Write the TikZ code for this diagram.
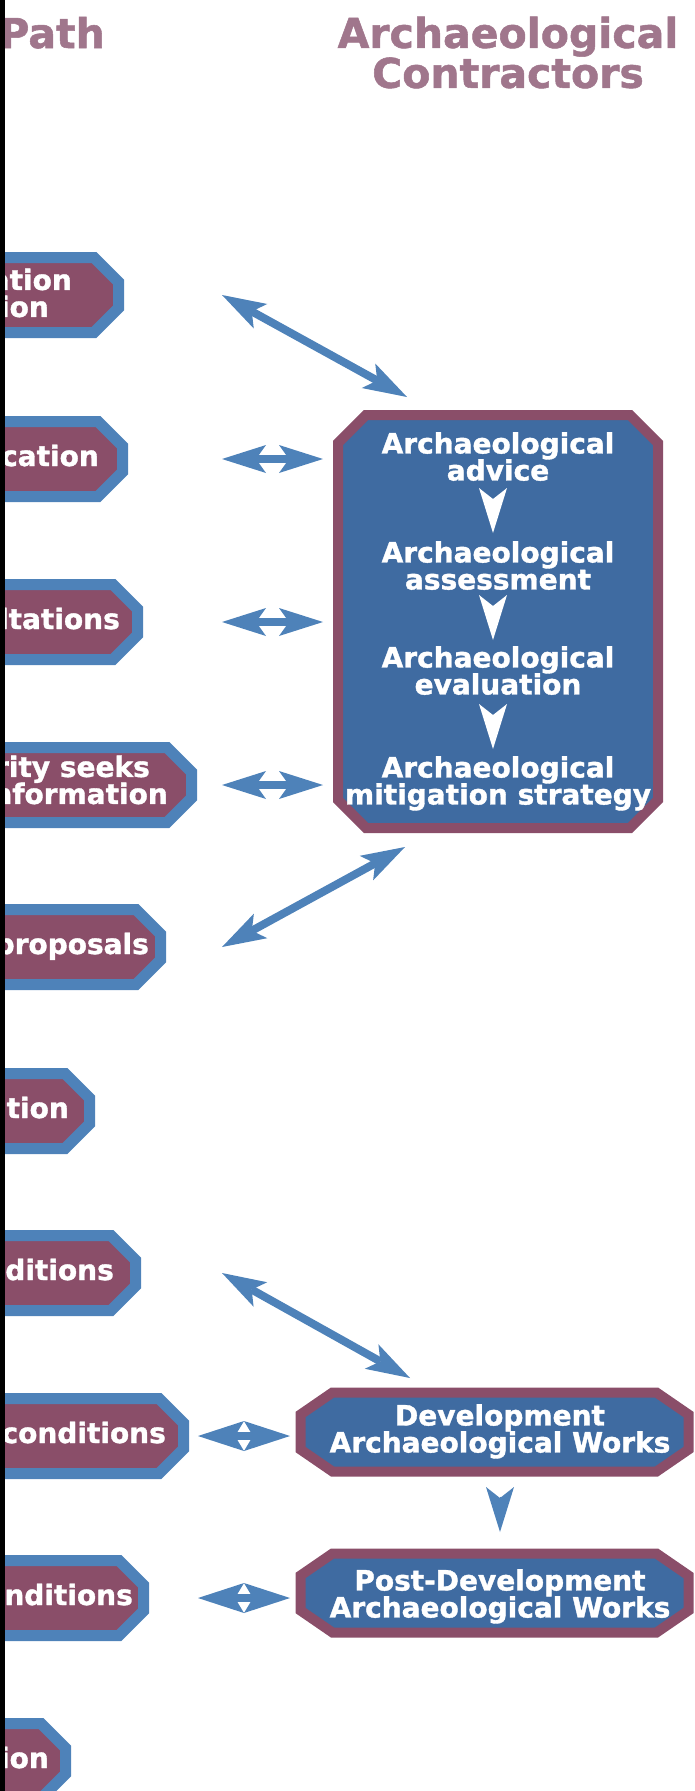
\documentclass[tikz,border=0pt]{standalone}
\usepackage{fontspec}
\setmainfont{DejaVu Sans}[BoldFeatures={FakeBold=1.3}]
\usetikzlibrary{arrows.meta}
\definecolor{TitleMauve}{HTML}{A0768C}
\definecolor{PathBlue}{HTML}{4E82B9}
\definecolor{BoxBlue}{HTML}{3F6BA1}
\definecolor{BoxRed}{HTML}{8A4E69}

\tikzset{
  titletext/.style={font={\bfseries\fontsize{41}{40}\selectfont\lineskiplimit=-20pt}, text=TitleMauve, inner sep=0pt, align=center},
  boxtext/.style={font={\bfseries\fontsize{28}{27}\selectfont\lineskiplimit=-20pt}, text=white, inner sep=0pt},
  pathbox/.style={draw=PathBlue, fill=BoxRed, line width=11pt, line join=miter},
  workbox/.style={draw=BoxRed, fill=BoxBlue, line width=10pt, line join=miter},
  twoway/.style={PathBlue, line width=8pt,
    {Stealth[length=44pt,width=28pt,inset=10pt,line width=0pt]}-{Stealth[length=44pt,width=28pt,inset=10pt,line width=0pt]}},
  shortway/.style={PathBlue, line width=8pt,
    {Stealth[length=46pt,width=30pt,inset=9pt,line width=0pt]}-{Stealth[length=46pt,width=30pt,inset=9pt,line width=0pt]}},
  downtip/.style={line width=0.5pt, -{Stealth[length=45pt,width=28pt,inset=11pt,line width=0pt]}}
}

\begin{document}
\begin{tikzpicture}[x=1pt,y=-1pt]
  \useasboundingbox (0,0) rectangle (695,1791);
  \clip (0,0) rectangle (695,1791);

  % column titles
  \node[titletext, anchor=base east] (pathtitle) at (105,48) {Path};
  \node[titletext, anchor=north] (contrtitle) at (508,16.5) {Archaeological\\Contractors};

  % planning path boxes, cut off by the left edge
  \foreach \i/\yc/\xr in {1/295/124,2/459/128,3/622/143,4/785/197,5/947/166,6/1111/95,7/1273/141,8/1436/189,9/1598/149,10/1761/71}{
    \filldraw[pathbox] (-20,\yc-37.5) -- (\xr-30,\yc-37.5) -- (\xr-5.5,\yc-13) -- (\xr-5.5,\yc+13) -- (\xr-30,\yc+37.5) -- (-20,\yc+37.5) -- cycle;
    \coordinate (row\i) at (0,\yc);
  }
  \node[boxtext, anchor=east, align=right] (prelim) at (72,293) {ation\\ion\hspace*{23pt}};
  \node[boxtext, anchor=base east] (appl) at (99,466) {cation};
  \node[boxtext, anchor=base east] (consult) at (120,629) {ltations};
  \node[boxtext, anchor=east, align=right] (seeks) at (168,780) {rity seeks\hspace*{18pt}\\nformation};
  \node[boxtext, anchor=base east] (amend) at (149,954) {proposals};
  \node[boxtext, anchor=base east] (determ) at (69,1118) {ation};
  \node[boxtext, anchor=base east] (cond) at (114,1280) {nditions};
  \node[boxtext, anchor=base east] (comply) at (166,1443) {conditions};
  \node[boxtext, anchor=base east] (discharge) at (133,1605) {onditions};
  \node[boxtext, anchor=base east] (complete) at (49,1768) {ion};

  % contractor boxes
  \filldraw[workbox] (366,415) -- (630,415) -- (658,443) -- (658,800) -- (630,828) -- (366,828) -- (338,800) -- (338,443) -- cycle;
  \foreach \yt in {1392.5,1553.5}{
    \filldraw[workbox] (332.5,\yt) -- (656.5,\yt) -- (688.5,\yt+22) -- (688.5,\yt+57) -- (656.5,\yt+79) -- (332.5,\yt+79) -- (300.5,\yt+57) -- (300.5,\yt+22) -- cycle;
  }
  \node[boxtext, align=center, anchor=north] (adv) at (498,432) {Archaeological\\advice};
  \node[boxtext, align=center, anchor=north] (ass) at (498,541) {Archaeological\\assessment};
  \node[boxtext, align=center, anchor=north] (eva) at (498,646) {Archaeological\\evaluation};
  \node[boxtext, align=center, anchor=north] (mit) at (498,756) {Archaeological\\mitigation strategy};
  \node[boxtext, align=center, anchor=north] (devw) at (500,1404) {Development\\Archaeological Works};
  \node[boxtext, align=center, anchor=north] (postw) at (500,1569) {Post-Development\\Archaeological Works};

  % steps inside the contractor box
  \draw[downtip, white, shorten <=18pt, shorten >=8pt] ([xshift=-5pt]adv.south) -- ([xshift=-5pt]ass.north);
  \draw[downtip, white, shorten <=16pt, shorten >=6pt] ([xshift=-5pt]ass.south) -- ([xshift=-5pt]eva.north);
  \draw[downtip, white, shorten <=20pt, shorten >=7pt] ([xshift=-5pt]eva.south) -- ([xshift=-5pt]mit.north);
  \draw[downtip, PathBlue, shorten <=38pt, shorten >=37pt] (devw.south) -- (postw.north);

  % links between the two columns
  \coordinate (hl) at (222,0);
  \coordinate (hr) at (323,0);
  \coordinate (sl) at (198,0);
  \coordinate (sr) at (290,0);
  \coordinate (advtop) at (407,397);
  \coordinate (advbot) at (405,847);
  \coordinate (devtop) at (410,1378);
  \draw[twoway] (row1 -| hl) -- (advtop);
  \draw[twoway] (row2 -| hl) -- (row2 -| hr);
  \draw[twoway] (row3 -| hl) -- (row3 -| hr);
  \draw[twoway] (row4 -| hl) -- (row4 -| hr);
  \draw[twoway] (row5 -| hl) -- (advbot);
  \draw[twoway] (row7 -| hl) -- (devtop);
  \draw[shortway] (row8 -| sl) -- (row8 -| sr);
  \draw[shortway] (row9 -| sl) -- (row9 -| sr);

  % scan edge
  \fill[black] (0,0) rectangle (5,1791);
\end{tikzpicture}
\end{document}
